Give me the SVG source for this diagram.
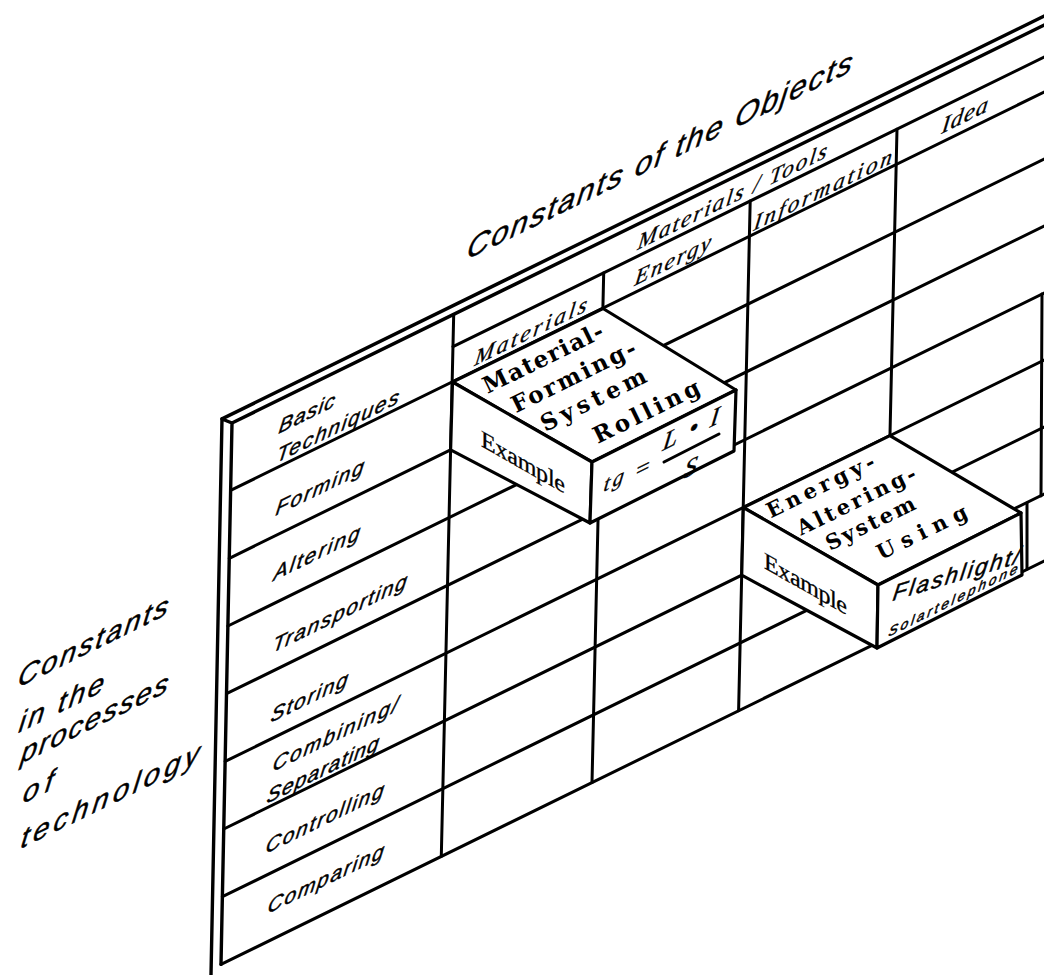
<svg xmlns="http://www.w3.org/2000/svg" width="1044" height="975" viewBox="0 0 1044 975">
<style>
.ln{fill:none;stroke:#000;stroke-width:3;stroke-linecap:round}
.bd{fill:none;stroke:#000;stroke-width:3.4;stroke-linecap:round}
.face{fill:#fff;stroke:#000;stroke-width:3.2;stroke-linejoin:round}
.sans{font-family:"Liberation Sans","DejaVu Sans",sans-serif;font-style:italic;fill:#000;stroke:#000;stroke-width:0.5}
.serif{font-family:"Liberation Serif","DejaVu Serif",serif;fill:#000;stroke:#000;stroke-width:0.35}
.it{font-style:italic}
.bold{font-family:"DejaVu Serif","Liberation Serif",serif;font-weight:bold;fill:#000}
</style>
<rect width="1044" height="975" fill="#fff"/>

<g id="grid">
  <path class="bd" d="M222,419 L211,975 M232,423 L221,964.4 M222,419 L232,423"/>
  <path class="bd" d="M222,418.9 L1046,15.1 M232,423 L1046,24.1"/>
  <path class="ln" d="M453,346.7 L1046,56.1
    M230.6,490.4 L1046,91.1
    M229.3,558.3 L1046,158.1
    M227.9,626 L1046,225.1
    M226.5,693.7 L1046,292.1
    M225.2,761.4 L1046,359.1
    M223.8,829 L1046,426.1
    M222.4,896.7 L1046,493.1
    M221,964.4 L1046,560.1"/>
  <path class="ln" d="M453.7,314.4 L441.3,856.5
    M603.7,272.9 L592,782.6
    M750.2,201 L738.6,710.8
    M897,129.2 L885.3,638.9
    M1042,294 L1041,496
    M1027,503 L1027,569"/>
</g>

<g id="title">
  <text class="sans" font-size="31" textLength="385" lengthAdjust="spacing" transform="matrix(1 -0.49 -0.15 1 466 260)">Constants of the Objects</text>
</g>

<g id="axis-label">
  <text class="sans" font-size="29" textLength="150" lengthAdjust="spacing" transform="matrix(1 -0.49 -0.15 1 17 688)">Constants</text>
  <text class="sans" font-size="29" textLength="85" lengthAdjust="spacing" transform="matrix(1 -0.49 -0.15 1 18 733)">in the</text>
  <text class="sans" font-size="29" textLength="147" lengthAdjust="spacing" transform="matrix(1 -0.49 -0.15 1 20 764)">processes</text>
  <text class="sans" font-size="29" textLength="30" lengthAdjust="spacing" transform="matrix(1 -0.49 -0.15 1 22 804)">of</text>
  <text class="sans" font-size="29" textLength="178" lengthAdjust="spacing" transform="matrix(1 -0.49 -0.15 1 20 849)">technology</text>
</g>

<g id="column-headers">
  <text class="serif it" font-size="23" textLength="189" lengthAdjust="spacing" transform="matrix(1 -0.49 -0.15 1 637 250)">Materials / Tools</text>
  <text class="serif it" font-size="23" textLength="112" lengthAdjust="spacing" transform="matrix(1 -0.49 -0.15 1 474 366)">Materials</text>
  <text class="serif it" font-size="23" textLength="76" lengthAdjust="spacing" transform="matrix(1 -0.49 -0.15 1 634 286)">Energy</text>
  <text class="serif it" font-size="23" textLength="138" lengthAdjust="spacing" transform="matrix(1 -0.49 -0.15 1 753 231)">Information</text>
  <text class="serif it" font-size="24" textLength="46" lengthAdjust="spacing" transform="matrix(1 -0.49 -0.15 1 941 134)">Idea</text>
</g>

<g id="row-labels">
  <text class="sans" font-size="21" textLength="56" lengthAdjust="spacing" transform="matrix(1 -0.49 -0.15 1 278 434)">Basic</text>
  <text class="sans" font-size="21" textLength="122" lengthAdjust="spacing" transform="matrix(1 -0.49 -0.15 1 276 463)">Techniques</text>
  <text class="sans" font-size="21" textLength="88" lengthAdjust="spacing" transform="matrix(1 -0.49 -0.15 1 275 516)">Forming</text>
  <text class="sans" font-size="21" textLength="86" lengthAdjust="spacing" transform="matrix(1 -0.49 -0.15 1 273 581)">Altering</text>
  <text class="sans" font-size="21" textLength="134" lengthAdjust="spacing" transform="matrix(1 -0.49 -0.15 1 272 653)">Transporting</text>
  <text class="sans" font-size="21" textLength="77" lengthAdjust="spacing" transform="matrix(1 -0.49 -0.15 1 270 723)">Storing</text>
  <text class="sans" font-size="21" textLength="125" lengthAdjust="spacing" transform="matrix(1 -0.49 -0.15 1 272 772)">Combining/</text>
  <text class="sans" font-size="21" textLength="112" lengthAdjust="spacing" transform="matrix(1 -0.49 -0.15 1 266 804)">Separating</text>
  <text class="sans" font-size="21" textLength="118" lengthAdjust="spacing" transform="matrix(1 -0.49 -0.15 1 265 854)">Controlling</text>
  <text class="sans" font-size="21" textLength="116" lengthAdjust="spacing" transform="matrix(1 -0.49 -0.15 1 267 914)">Comparing</text>
</g>

<g id="box-material-forming">
  <polygon class="face" points="452.5,382 603,308.5 736,390 592,462"/>
  <polygon class="face" points="452.5,382 592,462 590,523 450.6,449.9"/>
  <polygon class="face" points="592,462 736,390 734,451 590,523"/>
  <text class="bold" font-size="23" textLength="131" lengthAdjust="spacing" transform="translate(487.6,394) rotate(-26.1)">Material-</text>
  <text class="bold" font-size="23" textLength="136" lengthAdjust="spacing" transform="translate(515.9,413.3) rotate(-26.1)">Forming-</text>
  <text class="bold" font-size="23" textLength="115" lengthAdjust="spacing" transform="translate(545.2,432) rotate(-26.1)">System</text>
  <text class="bold" font-size="23" textLength="116" lengthAdjust="spacing" transform="translate(597.8,444) rotate(-26.1)">Rolling</text>
  <text class="serif" font-size="24" textLength="84" lengthAdjust="spacing" transform="matrix(1 0.57 0 1 481 446)">Example</text>
  <text class="serif it" font-size="22" textLength="20" lengthAdjust="spacing" transform="matrix(1 -0.49 -0.15 1 603 492)">tg</text>
  <text class="serif" font-size="24" transform="matrix(1 -0.49 -0.15 1 635 479)">=</text>
  <text class="serif it" font-size="26" textLength="56" lengthAdjust="spacing" transform="matrix(1 -0.49 -0.15 1 662 451)">L • I</text>
  <path class="ln" d="M664,462 L719,434"/>
  <text class="serif it" font-size="26" transform="matrix(1 -0.49 -0.15 1 683 479)">S</text>
</g>

<g id="box-energy-altering">
  <polygon class="face" points="743.3,507.5 889.9,435.6 1021,513 878,585"/>
  <polygon class="face" points="743.3,507.5 878,585 877,648 741.7,575.2"/>
  <polygon class="face" points="878,585 1021,513 1022,575 877,648"/>
  <text class="bold" font-size="21" textLength="118" lengthAdjust="spacing" transform="translate(770.7,518.5) rotate(-26.1)">Energy-</text>
  <text class="bold" font-size="21" textLength="130" lengthAdjust="spacing" transform="translate(801.1,535.8) rotate(-26.1)">Altering-</text>
  <text class="bold" font-size="21" textLength="97" lengthAdjust="spacing" transform="translate(830,551.1) rotate(-26.1)">System</text>
  <text class="bold" font-size="21" textLength="98" lengthAdjust="spacing" transform="translate(881.1,560.2) rotate(-26.1)">Using</text>
  <text class="serif" font-size="24" textLength="83" lengthAdjust="spacing" transform="matrix(1 0.57 0 1 764 568)">Example</text>
  <text class="sans" font-size="23" textLength="127" lengthAdjust="spacing" transform="matrix(1 -0.3 -0.15 1 892 601)">Flashlight/</text>
  <text class="sans" font-size="14" textLength="129" lengthAdjust="spacing" transform="matrix(1 -0.5 -0.15 1 888 637)">Solartelephone</text>
</g>
</svg>
